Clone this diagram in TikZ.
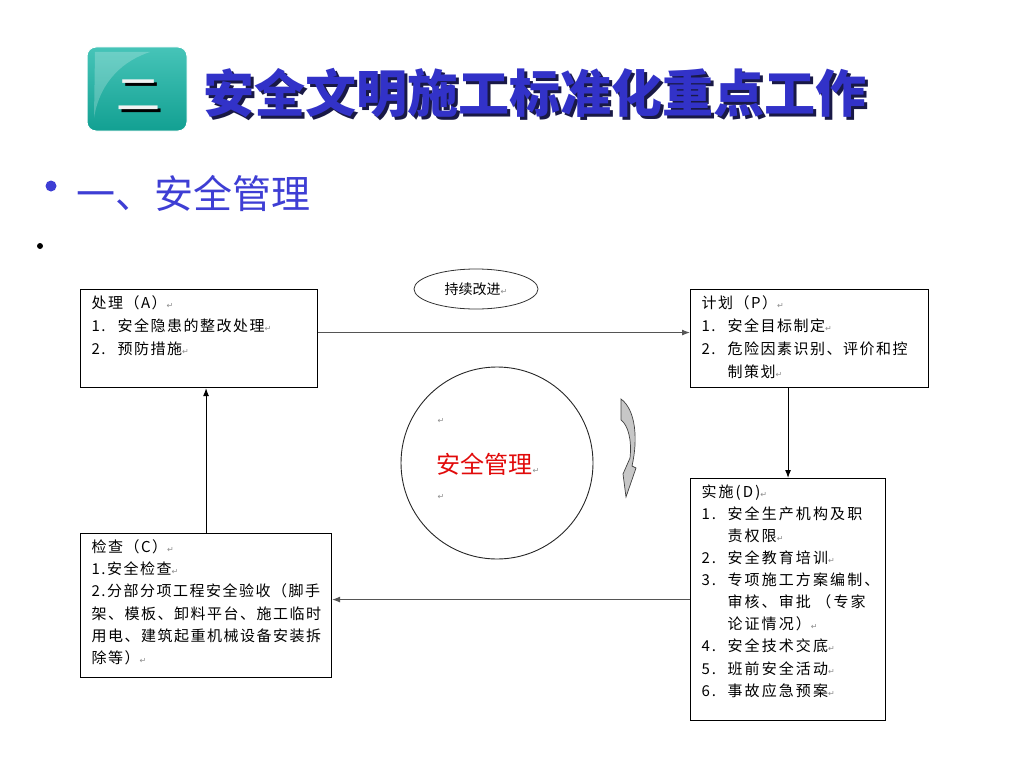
\documentclass[tikz,border=0pt]{standalone}
\usepackage{fontspec}
\setmainfont{Noto Sans CJK SC}
\newfontfamily\boxfont[LetterSpace=10]{Noto Sans CJK SC}
\newfontfamily\widefont[LetterSpace=14]{Noto Sans CJK SC}
\newfontfamily\symfont{DejaVu Sans}
\usetikzlibrary{arrows.meta, shapes.geometric}

\definecolor{titleblue}{RGB}{50,50,200}
\definecolor{titleshadow}{RGB}{25,25,70}
\definecolor{headblue}{RGB}{62,62,212}
\definecolor{tealdark}{RGB}{18,160,146}
\definecolor{teallight}{RGB}{70,196,184}
\definecolor{mgmtred}{RGB}{225,10,10}
\definecolor{linegray}{RGB}{85,85,85}

\newcommand{\pmk}{{\symfont\fontsize{8}{8}\selectfont\color{black!45}↵}}
\newcommand{\itemno}[1]{\makebox[26pt][l]{#1}}
\newcommand{\shadowed}[3]{\rlap{\hspace*{3pt}\raisebox{-3pt}{\color{#1}#3}}{\color{#2}#3}}

\begin{document}
\begin{tikzpicture}[
  x=1pt, y=-1pt,
  box/.style={rectangle, draw=black, line width=1.1pt, anchor=north west, inner xsep=11pt, inner ysep=6pt, align=left, fill=white},
  arrowstyle/.style={-{Latex[length=8pt,width=6pt]}, line width=1pt, draw=linegray},
  title/.style={font=\fontsize{51}{51}\selectfont\bfseries, inner sep=0pt},
  heading/.style={font=\fontsize{39}{39}\selectfont, inner sep=0pt, anchor=west}
]
\useasboundingbox (0,0) rectangle (1024,768);


\node[rectangle, rounded corners=9pt, minimum width=100pt, minimum height=84pt, top color=teallight, bottom color=tealdark, draw=white, line width=1pt] (badge) at (137,89) {};
\fill[white, opacity=0.22] (95,52) -- (150,52) .. controls (125,60) and (100,80) .. (94,118) -- cycle;
\node[font=\fontsize{44}{44}\selectfont, inner sep=0pt] (two) at (138,97) {\shadowed{black}{white!90!gray}{二}};

\node[title] (T) at (535,94) {\shadowed{titleshadow}{titleblue}{安全文明施工标准化重点工作}};

\fill[headblue] (51,186) circle (5.5);
\node[heading, text=headblue] (H) at (76,193) {一、安全管理};
\fill[black] (40,246) circle (3);


\node[box, minimum width=237pt, minimum height=98pt] (A) at (80,289) {\parbox[c][86pt][t]{215pt}{\boxfont\fontsize{15}{23}\selectfont
处理（A）\pmk\\
\itemno{1.}安全隐患的整改处理\pmk\\
\itemno{2.}预防措施\pmk}};

\node[box, minimum width=238pt, minimum height=98pt] (P) at (690,289) {\parbox[c][86pt][t]{216pt}{\boxfont\fontsize{15}{23}\selectfont
计划（P）\pmk\\
\itemno{1.}安全目标制定\pmk\\
\itemno{2.}危险因素识别、评价和控\\
\hspace*{26pt}制策划\pmk}};

\node[box, minimum width=195pt, minimum height=242pt] (D) at (690,478) {\parbox[c][230pt][t]{173pt}{\widefont\fontsize{15}{22.1}\selectfont
实施(D)\pmk\\
\itemno{1.}安全生产机构及职\\
\hspace*{26pt}责权限\pmk\\
\itemno{2.}安全教育培训\pmk\\
\itemno{3.}专项施工方案编制、\\
\hspace*{26pt}审核、审批 （专家\\
\hspace*{26pt}论证情况）\pmk\\
\itemno{4.}安全技术交底\pmk\\
\itemno{5.}班前安全活动\pmk\\
\itemno{6.}事故应急预案\pmk}};

\node[box, minimum width=251pt, minimum height=144pt] (C) at (80,533) {\parbox[c][132pt][t]{229pt}{\boxfont\fontsize{15}{22.3}\selectfont
检查（C）\pmk\\
1.安全检查\pmk\\
2.分部分项工程安全验收（脚手\\
架、模板、卸料平台、施工临时\\
用电、建筑起重机械设备安装拆\\
除等）\pmk}};


\node[ellipse, draw=black!80, line width=0.8pt, minimum width=124pt, minimum height=40pt, font=\fontsize{14}{14}\selectfont] (loop) at (476,289) {持续改进\pmk};

\node[circle, draw=black!85, line width=0.9pt, minimum size=192pt] (cycle) at (497,463) {};
\node[font=\fontsize{24}{24}\selectfont, text=mgmtred, inner sep=0pt] (mgmt) at (488,464) {安全管理\pmk};
\node[inner sep=0pt] (m1) at (441,421) {\pmk};
\node[inner sep=0pt] (m2) at (441,497) {\pmk};

\filldraw[fill=black!22, draw=black!75, line width=0.7pt]
  (621,399) -- (621,420) .. controls (628,425) and (632,440) .. (630,458)
  -- (623,474) -- (626,497) -- (636,468) -- (632,466)
  .. controls (638,440) and (636,410) .. (621,399) -- cycle;


\draw[arrowstyle] ([yshift=6pt]A.east) -- ([yshift=6pt]P.west);
\draw[arrowstyle, draw=black] (D.north |- P.south) -- (D.north);
\draw[arrowstyle] (D.west) -- (D.west -| C.east);
\draw[arrowstyle, draw=black] (C.north) -- (C.north |- A.south);

\end{tikzpicture}
\end{document}
